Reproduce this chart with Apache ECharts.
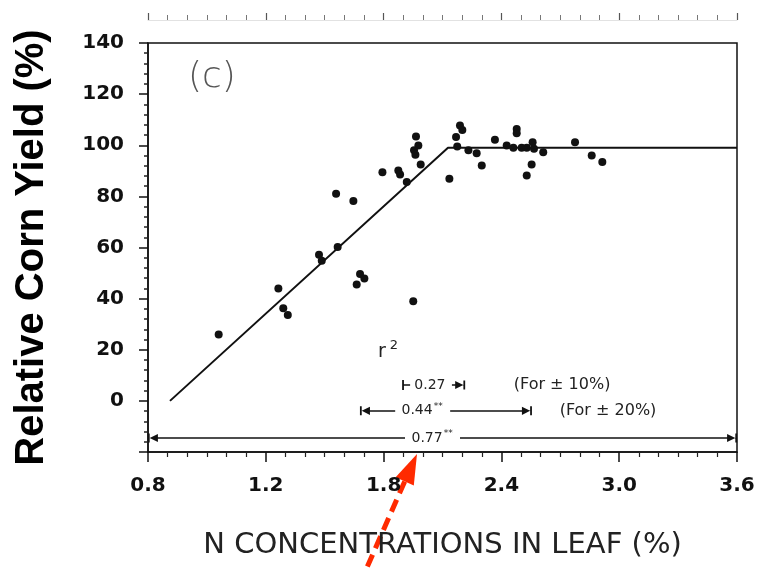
<!DOCTYPE html>
<html>
<head>
<meta charset="utf-8">
<script src="https://cdn.jsdelivr.net/npm/echarts@6/dist/echarts.min.js"></script>
<style>html,body{margin:0;padding:0;background:#fff;}#c{width:759px;height:568px;}</style>
</head>
<body>
<div id="c"></div>
<script>
// ---- data ----
const nLeaf = [0.96,1.264,1.289,1.312,1.471,1.485,1.566,1.663,1.680,1.702,1.951,
  1.558,1.646,1.794,1.875,1.884,1.918,1.965,1.977,1.955,1.962,1.989,
  2.135,2.169,2.189,2.201,2.175,2.232,2.274,2.300,2.367,2.427,2.461,2.478,2.478,
  2.503,2.529,2.559,2.566,2.554,2.529,2.613,2.775,2.860,2.914];
const relYield = [26,44,36.2,33.6,57.2,54.8,60.2,45.5,49.6,47.9,39,
  81,78.2,89.4,90.1,88.6,85.6,103.4,99.9,98,96.3,92.5,
  86.9,103.2,107.7,106,99.5,98,96.9,92.1,102.2,99.9,99,106.4,104.7,
  99,99,101.2,98.6,92.5,88.2,97.3,101.2,96,93.4];
const fitN = [0.712, 2.128, 3.6];
const fitYield = [0, 99, 99];
const xTickLabels = ['0.8','1.2','1.8','2.4','3.0','3.6'];
// r^2 range annotations: [leftStart, leftEnd, rightStart, rightEnd, yLevel, textN, text, noteN, note]
const rangeRows = [
  [1.899, 1.935, 2.148, 2.190, 6.2, 2.036, '0.27', 2.709, '(For \u00B1 10%)'],
  [1.705, 1.859, 2.139, 2.530, -3.9, 1.996, '0.44{s|**}', 2.943, '(For \u00B1 20%)'],
  [0.625, 1.909, 2.189, 3.575, -14.5, 2.047, '0.77{s|**}', null, null]
];
const r2Pos = [1.822, 19.1];

const ARROW_BAR = 'path://M0,0 L10,0 L10,1.6 L0,1.6 Z M5,1.6 L0.5,9 L9.5,9 Z';
const BAR_ONLY = 'path://M0,0 L10,0 L10,2 L0,2 Z';

const mlData = [];
const mpData = [];
rangeRows.forEach((r, i) => {
  const leftEnd = i === 0 ? {coord:[r[0], r[4]], symbol:BAR_ONLY, symbolSize:[10,1.8]}
                          : {coord:[r[0], r[4]], symbol:ARROW_BAR, symbolSize:[9,10]};
  mlData.push([leftEnd, {coord:[r[1], r[4]], symbol:'none'}]);
  mlData.push([{coord:[r[2], r[4]], symbol:'none'}, {coord:[r[3], r[4]], symbol:ARROW_BAR, symbolSize:[9,10]}]);
  mpData.push({coord:[r[5], r[4]], label:{formatter:r[6]}});
  if (r[7] !== null) mpData.push({coord:[r[7], r[4]], label:{formatter:r[8], fontSize:16}});
});
mpData.push({coord:r2Pos, label:{formatter:'r{t|2}', fontSize:19}});

const chart = echarts.init(document.getElementById('c'), null, {renderer:'canvas'});
const tickFont = {fontFamily:'DejaVu Sans', fontWeight:'bold', fontSize:20, color:'#111'};
chart.setOption({
  backgroundColor:'#fff',
  animation:false,
  grid:{left:148, right:22, top:43, bottom:116, show:true, borderColor:'#111', borderWidth:1.5, backgroundColor:'transparent'},
  xAxis:[{
    type:'value', min:0.6, max:3.6, interval:0.6,
    name:'N CONCENTRATIONS IN LEAF (%)', nameLocation:'middle', nameGap:79,
    nameTextStyle:{fontFamily:'DejaVu Sans', fontSize:29, color:'#222'},
    axisLine:{onZero:false, lineStyle:{color:'#111', width:1.5}},
    axisTick:{length:10, lineStyle:{color:'#111', width:1.5}},
    minorTick:{show:true, splitNumber:6, length:5, lineStyle:{color:'#222', width:1.2}},
    splitLine:{show:false},
    axisLabel:Object.assign({margin:24, formatter:v => xTickLabels[Math.round((v-0.6)/0.6)]}, tickFont)
  },{
    type:'value', position:'top', offset:23, min:0.6, max:3.6, interval:0.6,
    axisLine:{onZero:false, lineStyle:{color:'#e2e2e2', width:1}},
    axisTick:{length:7, lineStyle:{color:'#555', width:1.2}},
    minorTick:{show:true, splitNumber:6, length:5, lineStyle:{color:'#777', width:1}},
    splitLine:{show:false}, axisLabel:{show:false}
  }],
  yAxis:{
    type:'value', min:-20, max:140, interval:20,
    name:'Relative Corn Yield (%)', nameLocation:'middle', nameGap:96,
    nameTextStyle:{fontFamily:'Liberation Sans', fontWeight:'bold', fontSize:40, color:'#000'},
    axisLine:{show:true, onZero:false, lineStyle:{color:'#111', width:1.5}},
    axisTick:{length:9, lineStyle:{color:'#111', width:1.5}},
    minorTick:{show:true, splitNumber:5, length:4, lineStyle:{color:'#222', width:1.5}},
    splitLine:{show:false},
    axisLabel:Object.assign({margin:24, formatter:v => v < 0 ? '' : String(v)}, tickFont)
  },
  series:[
    {type:'scatter', data:nLeaf.map((n,i)=>[n, relYield[i]]), symbolSize:8, itemStyle:{color:'#111', opacity:1}, silent:true},
    {type:'line', data:fitN.map((n,i)=>[n, fitYield[i]]), symbol:'none', lineStyle:{color:'#111', width:2}, silent:true},
    {type:'line', data:[], silent:true,
     markLine:{silent:true, symbol:'none', lineStyle:{color:'#111', width:1.5, type:'solid'}, label:{show:false}, data:mlData},
     markPoint:{silent:true, symbol:'circle', symbolSize:1, itemStyle:{color:'rgba(0,0,0,0)'},
       label:{show:true, position:'inside', color:'#222', fontFamily:'DejaVu Sans', fontSize:14,
         rich:{
           s:{fontSize:9, verticalAlign:'top', padding:[0,0,8,1], color:'#222', fontFamily:'DejaVu Sans'},
           t:{fontSize:13, verticalAlign:'top', padding:[0,0,12,4], color:'#222', fontFamily:'DejaVu Sans'}
         }},
       data:mpData}
    }
  ],
  graphic:[
    {type:'text', left:188, top:60, style:{text:'(c)', font:'200 36px "DejaVu Sans"', fill:'#555'}},
    {type:'line', shape:{x1:404.7, y1:481.4, x2:365, y2:572}, style:{stroke:'#ff2a00', lineWidth:5, lineDash:[13,7]}},
    {type:'polygon', shape:{points:[[417,454],[413.8,485.5],[395.6,477.3]]}, style:{fill:'#ff2a00'}}
  ]
});
</script>
</body>
</html>
